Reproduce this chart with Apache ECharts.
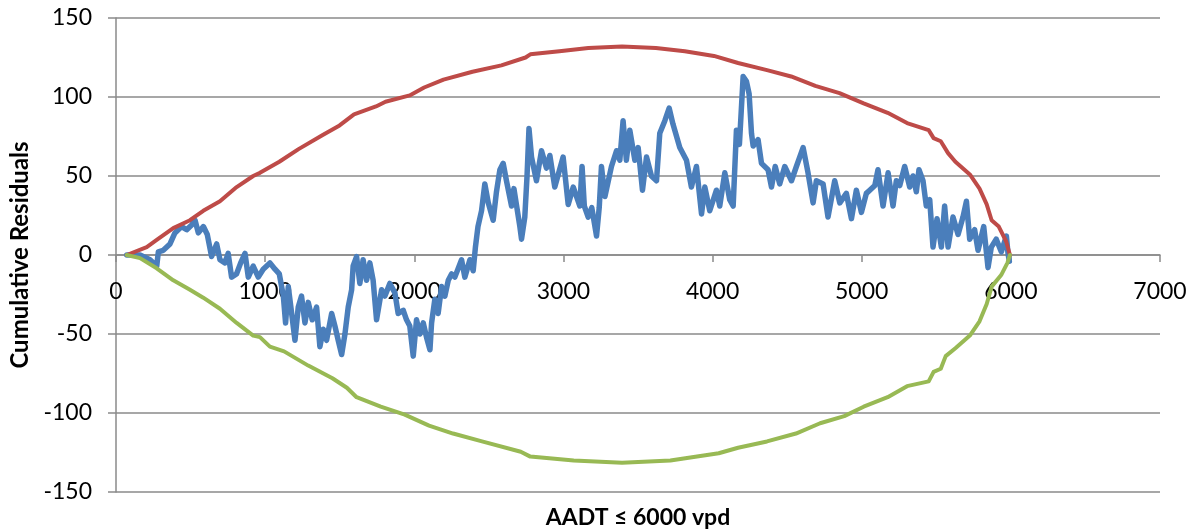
<!DOCTYPE html>
<html>
<head>
<meta charset="utf-8">
<script src="https://cdn.jsdelivr.net/npm/echarts@6/dist/echarts.min.js"></script>
<style>
  html, body { margin: 0; padding: 0; background: #fff; }
  #chart { width: 1196px; height: 529px; }
</style>
</head>
<body>
<div id="chart"></div>
<script>
// Axis ticks
const xTicks = [0, 1000, 2000, 3000, 4000, 5000, 6000, 7000];
const yTicks = [-150, -100, -50, 0, 50, 100, 150];

// Cumulative residuals (CURE) along AADT
const cureX = [72, 161, 228, 273, 284, 317, 362, 395, 440, 474, 507, 530, 552, 586, 612, 641, 675, 697, 730, 752,
  775, 808, 836, 865, 887, 920, 954, 987, 1032, 1066, 1095, 1122, 1137, 1155, 1166, 1200, 1222, 1244, 1267, 1289,
  1316, 1345, 1367, 1390, 1412, 1446, 1468, 1490, 1513, 1535, 1557, 1580, 1590, 1613, 1635, 1657, 1680, 1702, 1724, 1747,
  1781, 1803, 1836, 1870, 1892, 1926, 1948, 1970, 1993, 2015, 2038, 2060, 2082, 2105, 2116, 2138, 2160, 2183, 2205, 2228,
  2250, 2272, 2317, 2339, 2373, 2395, 2410, 2427, 2451, 2473, 2496, 2529, 2551, 2574, 2596, 2618, 2652, 2668, 2708, 2719,
  2741, 2756, 2769, 2786, 2819, 2853, 2886, 2909, 2942, 2998, 3032, 3066, 3110, 3125, 3140, 3166, 3190, 3222, 3240, 3255,
  3278, 3322, 3356, 3378, 3400, 3422, 3445, 3479, 3501, 3530, 3557, 3590, 3624, 3646, 3680, 3709, 3734, 3780, 3825, 3858,
  3892, 3926, 3948, 3981, 4026, 4048, 4082, 4115, 4138, 4160, 4180, 4205, 4227, 4245, 4261, 4272, 4305, 4328, 4372, 4395,
  4420, 4450, 4484, 4529, 4562, 4607, 4640, 4674, 4696, 4741, 4774, 4819, 4853, 4897, 4931, 4964, 4998, 5031, 5054, 5088,
  5109, 5143, 5177, 5210, 5232, 5255, 5288, 5322, 5344, 5366, 5384, 5411, 5433, 5456, 5478, 5505, 5534, 5556, 5579, 5612,
  5646, 5679, 5702, 5724, 5757, 5780, 5818, 5847, 5869, 5902, 5936, 5970, 5981, 5990];
const cureY = [0, 0, -3, -7, 2, 3, 7, 14, 18, 16, 19, 22, 14, 18, 13, -1, 7, -3, -5, 1,
  -14, -12, -5, 1, -14, -7, -14, -9, -5, -9, -12, -26, -43, -20, -28, -54, -33, -26, -43, -30,
  -41, -33, -58, -47, -54, -37, -45, -54, -63, -50, -33, -22, -7, -1, -18, -3, -16, -5, -16, -41,
  -22, -26, -18, -24, -37, -35, -41, -45, -64, -41, -50, -43, -52, -60, -43, -28, -37, -20, -26, -16,
  -12, -14, -3, -14, -3, -10, 5, 18, 28, 45, 33, 22, 40, 54, 58, 47, 31, 42, 18, 10,
  24, 50, 80, 62, 47, 66, 55, 63, 43, 62, 32, 43, 31, 56, 31, 24, 30, 12, 30, 56,
  37, 56, 66, 60, 85, 60, 79, 60, 68, 41, 62, 50, 47, 77, 85, 93, 83, 68, 60, 43,
  56, 26, 43, 28, 41, 31, 52, 35, 31, 79, 70, 113, 110, 102, 77, 69, 73, 58, 54, 43,
  56, 45, 56, 47, 56, 68, 52, 33, 47, 45, 24, 47, 33, 39, 23, 41, 27, 39, 41, 44,
  54, 31, 52, 31, 47, 44, 56, 43, 50, 40, 54, 47, 31, 35, 5, 23, 5, 31, 5, 24,
  13, 24, 34, 10, 16, 3, 18, -8, 5, 10, 2, 12, 1, -4];

// Upper bound (+2 sigma)
const upperX = [72, 206, 273, 384, 496, 585, 697, 809, 920, 965, 1095, 1224, 1386, 1499, 1596, 1743, 1807, 1969, 2066, 2196,
  2390, 2584, 2746, 2778, 2973, 3167, 3393, 3620, 3814, 4009, 4171, 4365, 4527, 4689, 4851, 5013, 5174, 5304, 5449, 5482,
  5530, 5579, 5628, 5725, 5790, 5838, 5871, 5919, 5968, 5994];
const upperY = [0, 5, 9.5, 17, 22, 28, 34, 43, 50, 52, 59, 67, 76, 82, 89, 94, 97, 101, 106, 111,
  116, 120, 125, 127, 129, 131, 132, 131, 129, 126, 121.5, 117, 113, 107, 102.5, 96, 90, 83.5, 79, 74,
  72, 64.5, 59, 51, 42, 32, 22, 18, 8.7, 0];

// Lower bound (-2 sigma)
const lowerX = [72, 161, 273, 384, 496, 585, 697, 809, 920, 965, 1032, 1127, 1289, 1451, 1548, 1613, 1775, 1936, 2099, 2260,
  2454, 2714, 2778, 3069, 3393, 3717, 4041, 4171, 4365, 4559, 4721, 4883, 5013, 5174, 5304, 5449, 5482, 5530, 5563, 5628,
  5725, 5790, 5838, 5871, 5935, 5977, 5994];
const lowerY = [0, -2, -8.4, -16, -22, -27, -34, -43, -51, -52, -58, -61, -70, -78, -84, -90, -96, -101, -108, -113,
  -118, -124.5, -127.6, -130, -131.5, -130, -125.5, -122, -118, -113, -106.5, -102, -96, -90, -83, -80, -74, -72, -64, -59,
  -51, -42, -31, -20, -12.7, -5, 0];

const pairs = (xs, ys) => xs.map((x, i) => [x, ys[i]]);

const gridGray = '#8a8a8a';
const fontFamily = 'Lato, "Open Sans", sans-serif';

const gridTop = 18;
const gridBottom = 37;
const chartHeight = 529;

const chart = echarts.init(document.getElementById('chart'), null, { renderer: 'canvas' });

// The AADT axis crosses at y = 0: lift it from the grid bottom by the
// height that the negative part of the y range takes up.
const plotHeight = chartHeight - gridTop - gridBottom;
const yMin = yTicks[0];
const yMax = yTicks[yTicks.length - 1];
const zeroShift = plotHeight * (0 - yMin) / (yMax - yMin);

chart.setOption({
  animation: false,
  backgroundColor: '#ffffff',
  grid: { left: 116, right: 36, top: gridTop, bottom: gridBottom, containLabel: false },
  xAxis: {
    type: 'value',
    position: 'bottom',
    offset: -zeroShift,
    min: xTicks[0],
    max: xTicks[xTicks.length - 1],
    interval: xTicks[1] - xTicks[0],
    axisLine: { show: true, onZero: false, lineStyle: { color: gridGray, width: 1.5 } },
    axisTick: { show: true, inside: false, length: 7, lineStyle: { color: gridGray, width: 1.5 } },
    axisLabel: { color: '#000', fontSize: 23, fontFamily, margin: 25, formatter: v => String(v) },
    splitLine: { show: false }
  },
  yAxis: {
    type: 'value',
    min: yMin,
    max: yMax,
    interval: yTicks[1] - yTicks[0],
    axisLine: { show: true, onZero: false, lineStyle: { color: gridGray, width: 1.5 } },
    axisTick: { show: true, inside: false, length: 8, lineStyle: { color: gridGray, width: 1.5 } },
    axisLabel: { color: '#000', fontSize: 23, fontFamily, margin: 24, formatter: v => String(v) },
    splitLine: { show: true, lineStyle: { color: gridGray, width: 1.5 } }
  },
  graphic: [
    {
      type: 'text',
      x: 638, y: 518,
      style: {
        text: 'AADT ≤ 6000 vpd',
        font: 'bold 23px ' + fontFamily,
        fill: '#000',
        textAlign: 'center',
        textVerticalAlign: 'middle'
      }
    },
    {
      type: 'text',
      x: 20, y: 255,
      rotation: Math.PI / 2,
      style: {
        text: 'Cumulative Residuals',
        font: 'bold 24px ' + fontFamily,
        fill: '#000',
        textAlign: 'center',
        textVerticalAlign: 'middle'
      }
    }
  ],
  series: [
    {
      name: 'CURE',
      type: 'line',
      data: pairs(cureX, cureY),
      showSymbol: false,
      symbol: 'none',
      lineStyle: { color: '#4a7ebb', width: 5.5, join: 'round', cap: 'round' },
      z: 2
    },
    {
      name: 'Upper',
      type: 'line',
      data: pairs(upperX, upperY),
      showSymbol: false,
      symbol: 'none',
      lineStyle: { color: '#be4b48', width: 4, join: 'round', cap: 'round' },
      z: 3
    },
    {
      name: 'Lower',
      type: 'line',
      data: pairs(lowerX, lowerY),
      showSymbol: false,
      symbol: 'none',
      lineStyle: { color: '#98b954', width: 4, join: 'round', cap: 'round' },
      z: 4
    }
  ]
});
</script>
</body>
</html>
